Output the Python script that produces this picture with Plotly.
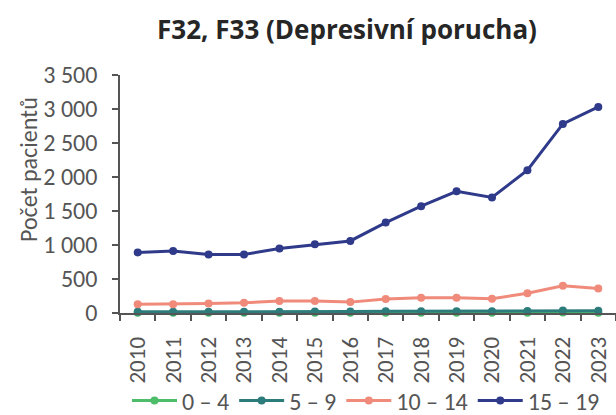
import plotly.graph_objects as go

years = [str(y) for y in range(2010, 2024)]
series_names = ["0 – 4", "5 – 9", "10 – 14", "15 – 19"]
age_0_4 = [3, 2, 3, 2, 3, 3, 4, 3, 4, 3, 4, 5, 6, 5]
age_5_9 = [18, 17, 19, 18, 20, 22, 21, 24, 25, 26, 25, 30, 35, 32]
age_10_14 = [130, 130, 140, 150, 175, 175, 160, 205, 225, 225, 210, 290, 400, 360]
age_15_19 = [890, 910, 860, 860, 950, 1010, 1060, 1330, 1570, 1790, 1700, 2100, 2780, 3030]
colors = ["#4dbd6a", "#2c7c7c", "#f08a7a", "#2f3a8a"]
y_ticks = [0, 500, 1000, 1500, 2000, 2500, 3000, 3500]

W, H = 616, 415
L, R, T, B = 120, 0, 75, 102

fig = go.Figure()
for name, vals, col in zip(series_names, [age_0_4, age_5_9, age_10_14, age_15_19], colors):
    fig.add_trace(go.Scatter(
        x=years, y=vals, name=name, mode="lines+markers",
        line=dict(color=col, width=3),
        marker=dict(color=col, size=8, symbol="circle"),
        cliponaxis=False,
    ))

font_family = "Carlito, Lato, 'Open Sans', sans-serif"
text_col = "#555555"

fig.update_layout(
    template="none",
    width=W, height=H,
    margin=dict(l=L, r=R, t=T, b=B, pad=0, autoexpand=False),
    plot_bgcolor="white", paper_bgcolor="white",
    separators=", ",
    font=dict(family=font_family, size=23, color=text_col),
    title=dict(
        text="<b>F32, F33 (Depresivní porucha)</b>",
        xref="container", x=347 / W, xanchor="center",
        yref="container", y=1 - 30 / H, yanchor="middle",
        font=dict(family="'Open Sans', sans-serif", size=26, color="#262626"),
    ),
    xaxis=dict(
        type="category", range=[-0.5, 13.5], automargin=False,
        showline=True, linecolor="#555555", linewidth=1.5,
        ticks="outside", tickson="boundaries", ticklen=6, tickcolor="#555555",
        tickwidth=1.5, ticklabelstandoff=13,
        tickangle=-90, showgrid=False, zeroline=False,
        tickfont=dict(size=23, color=text_col),
    ),
    yaxis=dict(
        range=[0, 3500], tickvals=y_ticks, tickformat=",d", automargin=False,
        showline=True, linecolor="#555555", linewidth=1.5,
        ticks="outside", ticklen=6, tickcolor="#555555", tickwidth=1.5,
        ticklabelstandoff=10,
        showgrid=False, zeroline=False,
        tickfont=dict(size=24, color=text_col),
    ),
    legend=dict(
        orientation="h", x=(127 - L) / (W - L - R), xanchor="left",
        y=(313 - 401) / (H - T - B), yanchor="middle",
        font=dict(size=24, color=text_col), bgcolor="rgba(0,0,0,0)",
        itemwidth=45, tracegroupgap=0,
    ),
    showlegend=True,
)

fig.add_annotation(
    text="Počet pacientů", textangle=-90,
    xref="paper", x=(28 - L) / (W - L - R), xanchor="center",
    yref="paper", y=(313 - 170) / (H - T - B), yanchor="middle",
    showarrow=False, font=dict(size=24, color=text_col),
)

fig.write_html("out.html", config={"displayModeBar": False},
               post_script="document.body.style.margin='0';")
